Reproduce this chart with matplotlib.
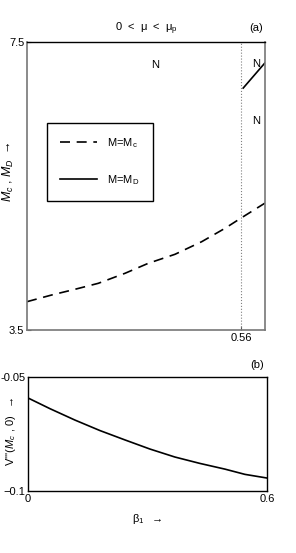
import matplotlib
matplotlib.use("Agg")
import matplotlib.pyplot as plt

plt.rcParams['font.family'] = ['Liberation Sans', 'DejaVu Sans']
plt.rcParams['mathtext.fontset'] = 'custom'
plt.rcParams['mathtext.rm'] = 'Liberation Sans'
plt.rcParams['mathtext.it'] = 'Liberation Sans:italic'
plt.rcParams['font.size'] = 8

# panel (a)
beta_c = [0.0, 0.0647, 0.1256, 0.1866, 0.2565, 0.3175, 0.3874, 0.4573, 0.5183, 0.562, 0.623]
M_c = [3.893, 3.986, 4.065, 4.148, 4.287, 4.426, 4.551, 4.726, 4.912, 5.060, 5.262]
beta_d = [0.566, 0.623]
M_d = [6.86, 7.21]
beta_p = 0.56

# panel (b)
beta_b = [0.0, 0.0552, 0.118, 0.1808, 0.2435, 0.3063, 0.369, 0.4318, 0.4946, 0.5448, 0.6]
V3 = [-0.0592, -0.0639, -0.0689, -0.0735, -0.0776, -0.0816, -0.0851, -0.0879, -0.0904, -0.0927, -0.0943]

fig = plt.figure(figsize=(2.96, 5.53), dpi=100)

ax1 = fig.add_axes([0.0912, 0.4033, 0.804, 0.5208])
ax1.plot(beta_c, M_c, color='black', lw=1.2, dashes=(6, 4), label='M=M$_\\mathrm{c}$')
ax1.plot(beta_d, M_d, color='black', lw=1.2, label='M=M$_\\mathrm{D}$')
ax1.axvline(beta_p, color='gray', lw=0.8, ls=':')
ax1.set_xlim(0, 0.623)
ax1.set_ylim(3.5, 7.5)
ax1.set_yticks([3.5, 7.5])
ax1.set_yticklabels(['3.5', '7.5'])
ax1.set_xticks([beta_p])
ax1.set_xticklabels(['0.56'])
ax1.tick_params(direction='in', length=3, width=0.8, pad=2, colors='#555555', labelcolor='black')
for s in ['left', 'right', 'bottom']:
    ax1.spines[s].set_color('#777777')
    ax1.spines[s].set_linewidth(1.2)
ax1.spines['top'].set_color('black')
ax1.spines['top'].set_linewidth(1.0)
ax1.set_ylabel('$M_c$ , $M_D$ $\\rightarrow$', fontsize=9)
ax1.yaxis.set_label_coords(-0.045, 0.55)
ax1.set_title('0  <  \u03bc  <  \u03bc$_\\mathrm{p}$', fontsize=8, pad=8)
ax1.text(0.99, 1.03, '(a)', transform=ax1.transAxes, ha='right', va='bottom')
ax1.text(0.335, 7.18, 'N', ha='center', va='center')
ax1.text(0.601, 7.2, 'N', ha='center', va='center')
ax1.text(0.601, 6.4, 'N', ha='center', va='center')
leg = ax1.legend(loc='upper left', bbox_to_anchor=(0.084, 0.719), borderaxespad=0,
                 fancybox=False, edgecolor='black', framealpha=1, handlelength=3.3,
                 handletextpad=0.9, labelspacing=2.1, borderpad=1.2, fontsize=8)
leg.get_frame().set_linewidth(1.0)

ax2 = fig.add_axes([0.0946, 0.1121, 0.807, 0.2062])
ax2.plot(beta_b, V3, color='black', lw=1.2)
ax2.set_xlim(0, 0.6)
ax2.set_ylim(-0.1, -0.05)
ax2.set_yticks([-0.1, -0.05])
ax2.set_yticklabels(['\u22120.1', '-0.05'])
ax2.set_xticks([0, 0.6])
ax2.set_xticklabels(['0', '0.6'])
ax2.tick_params(direction='in', length=0, pad=2)
for s in ax2.spines.values():
    s.set_linewidth(1.0)
ax2.set_ylabel("V'''($M_c$ , 0)  $\\rightarrow$")
ax2.yaxis.set_label_coords(-0.04, 0.52)
ax2.set_xlabel('\u03b2$_\\mathrm{1}$  $\\rightarrow$', labelpad=6)
ax2.text(0.99, 1.06, '(b)', transform=ax2.transAxes, ha='right', va='bottom')

fig.savefig('out.png', dpi=100)
